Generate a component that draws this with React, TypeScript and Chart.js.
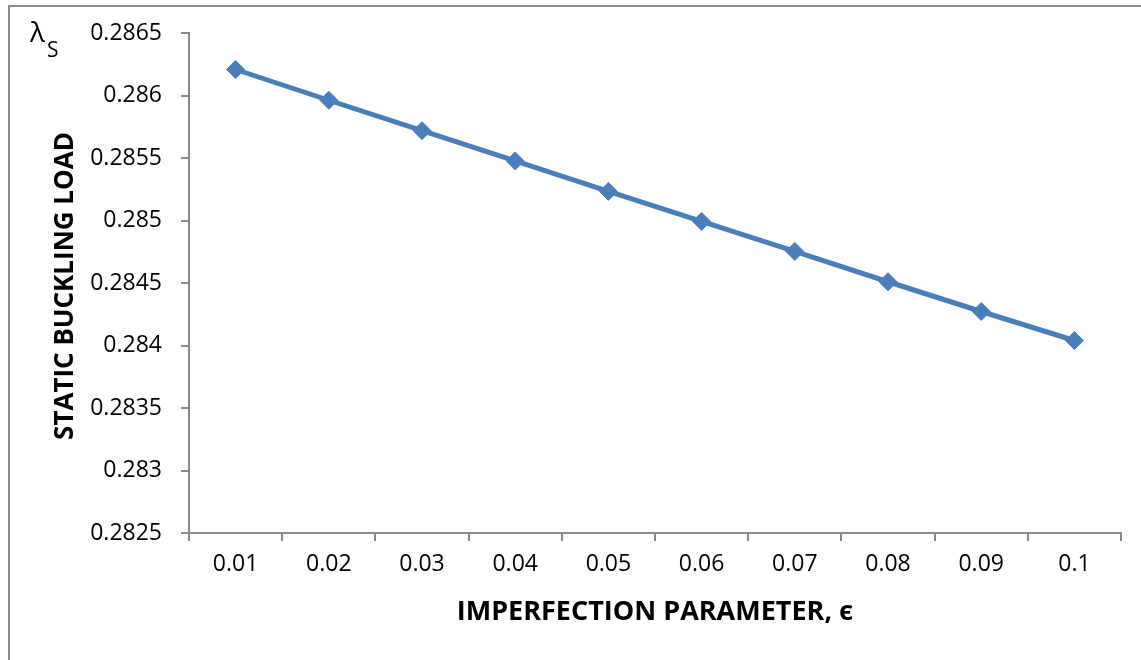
import React, { useEffect, useRef } from "react";
import { Chart, registerables } from "chart.js";

Chart.register(...registerables);

const categories = ["0.01", "0.02", "0.03", "0.04", "0.05", "0.06", "0.07", "0.08", "0.09", "0.1"];
const bucklingLoad = [0.286208, 0.285962, 0.285719, 0.285477, 0.285233, 0.284993, 0.284753, 0.28451, 0.284272, 0.28404];
const yMin = 0.2825;
const yMax = 0.2865;
const yStep = 0.0005;
const xTitle = "IMPERFECTION PARAMETER, \u03F5";
const yTitle = "STATIC BUCKLING LOAD";

const AXIS_COLOR = "#8a8a8a";
const LINE_COLOR = "#4a7ebb";
const FONT = "'Open Sans', 'Noto Sans', 'DejaVu Sans', sans-serif";

const yTitlePlugin = {
  id: "yTitleText",
  afterDraw(chart: any) {
    const { ctx, chartArea } = chart;
    ctx.save();
    ctx.translate(72.5, (chartArea.top + chartArea.bottom) / 2 + 3);
    ctx.rotate(-Math.PI / 2);
    ctx.font = `bold 26px ${FONT}`;
    ctx.fillStyle = "#000";
    ctx.textAlign = "center";
    ctx.textBaseline = "alphabetic";
    ctx.fillText(yTitle, 0, 0);
    ctx.restore();
  },
};

export default function App() {
  const ref = useRef<HTMLCanvasElement | null>(null);

  useEffect(() => {
    if (!ref.current) return;
    const chart = new Chart(ref.current, {
      type: "line",
      data: {
        labels: categories,
        datasets: [
          {
            data: bucklingLoad,
            borderColor: LINE_COLOR,
            backgroundColor: LINE_COLOR,
            borderWidth: 5,
            pointStyle: "rectRot",
            pointRadius: 9,
            pointBorderWidth: 1,
            pointBackgroundColor: LINE_COLOR,
            pointBorderColor: LINE_COLOR,
            tension: 0,
            fill: false,
          },
        ],
      },
      options: {
        responsive: false,
        animation: false,
        devicePixelRatio: 1,
        layout: { padding: { left: 8, top: 33, right: 20, bottom: 0 } },
        plugins: { legend: { display: false }, tooltip: { enabled: false } },
        scales: {
          x: {
            type: "category",
            offset: true,
            grid: {
              offset: true,
              drawOnChartArea: false,
              drawTicks: true,
              tickLength: 8,
              color: AXIS_COLOR,
              lineWidth: 2,
            },
            border: { display: true, color: AXIS_COLOR, width: 2 },
            ticks: { color: "#000", font: { family: FONT, size: 23 }, padding: 10, maxRotation: 0 },
            title: {
              display: true,
              text: xTitle,
              color: "#000",
              font: { family: FONT, size: 27, weight: "bold" },
              padding: { top: 0, bottom: 31 },
            },
            afterFit: (scale: any) => {
              scale.height = 127;
            },
          },
          y: {
            type: "linear",
            min: yMin,
            max: yMax,
            ticks: {
              stepSize: yStep,
              color: "#000",
              font: { family: FONT, size: 23 },
              padding: 19,
              callback: (v: any) => String(Number(Number(v).toFixed(4))),
            },
            grid: {
              drawOnChartArea: false,
              drawTicks: true,
              tickLength: 8,
              color: AXIS_COLOR,
              lineWidth: 2,
            },
            border: { display: true, color: AXIS_COLOR, width: 2 },
            title: { display: false },
            afterFit: (scale: any) => {
              scale.width = 181;
            },
          },
        },
      },
      plugins: [yTitlePlugin],
    });
    return () => chart.destroy();
  }, []);

  const symFont = "'Open Sans', 'Noto Sans', 'DejaVu Sans', sans-serif";

  return (
    <div style={{ position: "fixed", left: 0, top: 0, width: 1141, height: 660, background: "#fff", overflow: "hidden" }}>
      <div
        style={{
          position: "absolute",
          left: 8,
          top: 5,
          right: 0,
          bottom: 0,
          borderTop: `2px solid ${AXIS_COLOR}`,
          borderLeft: `2px solid ${AXIS_COLOR}`,
        }}
      />
      <canvas ref={ref} width={1141} height={660} style={{ position: "absolute", left: 0, top: 0, width: 1141, height: 660 }} />
      <span
        style={{
          position: "absolute",
          left: 30,
          top: 17,
          fontFamily: symFont,
          fontSize: 28,
          lineHeight: "28px",
          color: "#000",
          whiteSpace: "nowrap",
        }}
      >
        λ
      </span>
      <span
        style={{
          position: "absolute",
          left: 47,
          top: 39,
          fontFamily: symFont,
          fontSize: 21,
          lineHeight: "21px",
          color: "#000",
          whiteSpace: "nowrap",
        }}
      >
        S
      </span>
    </div>
  );
}
